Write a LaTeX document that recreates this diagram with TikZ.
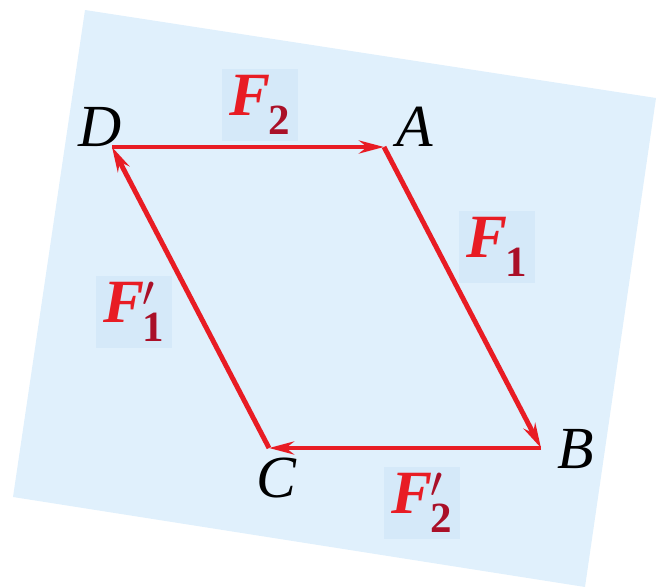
\documentclass[tikz,border=0pt]{standalone}
\usepackage{amsmath}
\usepackage{fontspec}
\setmainfont{Liberation Serif}
\usetikzlibrary{arrows.meta,positioning}

\definecolor{planeblue}{RGB}{224,240,252}
\definecolor{boxblue}{RGB}{213,233,249}
\definecolor{fred}{RGB}{232,28,36}
\definecolor{fdark}{RGB}{170,16,40}

\newcommand{\forceF}[2]{\textcolor{fred}{\bfseries\itshape F}\kern-0.04em\textcolor{fdark}{$^{#2}_{\text{\bfseries #1}}$}}

\begin{document}
\begin{tikzpicture}[
  x=0.02cm, y=-0.02cm,
  vertex/.style={font=\fontsize{34}{36}\selectfont\itshape},
  flabel/.style={fill=boxblue,inner sep=0pt,minimum width=1.52cm,minimum height=1.45cm,
    font=\fontsize{35}{37}\selectfont},
  force/.style={draw=fred,line width=2.8pt,-{Stealth[length=5mm,width=2.6mm]}}
]
  \useasboundingbox (0,0) rectangle (658,587);
  % tilted plane
  \begin{scope}
    \clip (0,0) rectangle (658,587);
    \fill[planeblue] (85,10) -- (656,98) -- (585,587) -- (13,497) -- cycle;
  \end{scope}

  \coordinate (D) at (112,147);
  \coordinate (A) at (384,147);
  \coordinate (B) at (541,448);
  \coordinate (C) at (269,448);

  \node[flabel] (lF2) at (260,105) {\forceF{2}{}};
  \node[flabel] (lF1) at (497,247) {\forceF{1}{}};
  \node[flabel] (lF1p) at (134,312) {\forceF{1}{\prime}};
  \node[flabel] (lF2p) at (422,503) {\forceF{2}{\prime}};

  \node[vertex] (lD) at (100,127) {D};
  \node[vertex] (lA) at (415,127) {A};
  \node[vertex] (lB) at (576,449) {B};
  \node[vertex] (lC) at (276,478) {C};

  \draw[force] (D) -- (A);
  \draw[force] (A) -- (B);
  \draw[force] (B) -- (C);
  \draw[force] (C) -- (D);
\end{tikzpicture}
\end{document}
